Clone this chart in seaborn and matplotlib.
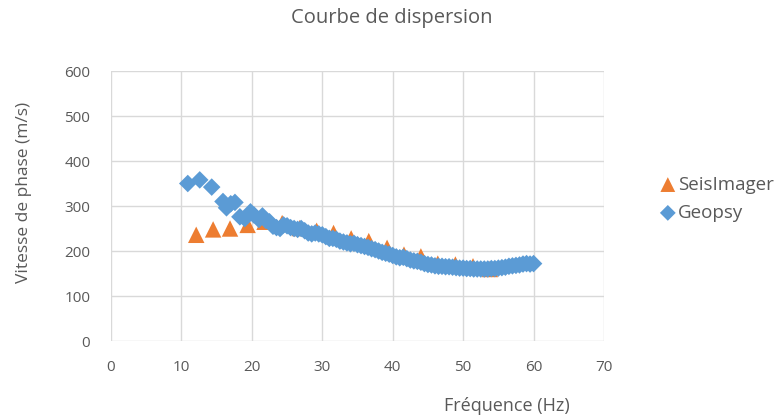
import matplotlib
matplotlib.use("Agg")
import matplotlib.pyplot as plt
import seaborn as sns
import pandas as pd

# SeisImager data
seis_f = [12.1, 14.5, 16.9, 19.4, 21.8, 24.3, 26.8, 29.2, 31.6, 34.1, 36.6,
          39.2, 41.6, 44.0, 46.4, 48.9, 51.4, 53.8]
seis_v = [236, 248, 250, 258, 265, 262, 251, 245, 240, 228, 222,
          207, 192, 188, 172, 170, 166, 160]

# Geopsy data
geo_f = [10.9, 12.6, 14.3, 15.9, 16.4, 17.0, 17.6, 18.3, 19.0, 19.8, 20.3,
         21.0, 21.5, 22.0, 22.5, 23.0, 23.5,
         24.0, 24.5, 25.0, 25.5, 26.0, 26.5, 27.0, 27.5, 28.0, 28.5, 29.0,
         29.5, 30.0, 30.5, 31.0, 31.5, 32.0, 32.5, 33.0, 33.5, 34.0, 34.5,
         35.0, 35.5, 36.0, 36.5, 37.0, 37.5, 38.0, 38.5, 39.0, 39.5, 40.0,
         40.5, 41.0, 41.5, 42.0, 42.5, 43.0, 43.5, 44.0, 44.5, 45.0, 45.5,
         46.0, 46.5, 47.0, 47.5, 48.0, 48.5, 49.0, 49.5, 50.0, 50.5, 51.0,
         51.5, 52.0, 52.5, 53.0, 53.5, 54.0, 54.5, 55.0, 55.5, 56.0, 56.5,
         57.0, 57.5, 58.0, 58.5, 59.0, 59.5, 60.0]
geo_v = [350, 358, 342, 310, 296, 305, 308, 276, 272, 287, 280,
         270, 278, 268, 265, 255, 252,
         250, 258, 256, 252, 250, 248, 250, 245, 240, 238, 240,
         238, 236, 232, 228, 228, 226, 222, 220, 218, 216, 217,
         214, 212, 210, 208, 205, 203, 200, 197, 195, 193, 190,
         187, 185, 186, 183, 180, 178, 177, 175, 172, 170, 169,
         167, 166, 166, 165, 165, 164, 163, 162, 162, 161, 161,
         160, 160, 160, 160, 160, 161, 161, 162, 163, 164, 166,
         167, 168, 169, 171, 172, 171, 172]

x_ticks = [0, 10, 20, 30, 40, 50, 60, 70]
y_ticks = [0, 100, 200, 300, 400, 500, 600]

sns.set_theme(style="white")
plt.rcParams['font.family'] = ['Open Sans', 'DejaVu Sans']

fig = plt.figure(figsize=(7.84, 4.19), dpi=100)
ax = fig.add_axes([111 / 784, 1 - 341 / 419, (604 - 111) / 784, 270 / 419])

seis_df = pd.DataFrame({"f": seis_f, "v": seis_v})
geo_df = pd.DataFrame({"f": geo_f, "v": geo_v})

sns.scatterplot(data=seis_df, x="f", y="v", marker="^", s=140, color="#ED7D31",
                edgecolor="none", linewidth=0, ax=ax, label="SeisImager", zorder=3)
sns.scatterplot(data=geo_df, x="f", y="v", marker="D", s=80, color="#5B9BD5",
                edgecolor="none", linewidth=0, ax=ax, label="Geopsy", zorder=4)

ax.set_xlim(0, 70)
ax.set_ylim(0, 600)
ax.set_xticks(x_ticks)
ax.set_yticks(y_ticks)
ax.grid(True, color="#d9d9d9", linewidth=1)
ax.set_axisbelow(True)
for s in ax.spines.values():
    s.set_visible(False)
ax.tick_params(axis="x", length=0, colors="#595959", labelsize=11, pad=14)
ax.tick_params(axis="y", length=0, colors="#595959", labelsize=11, pad=15)

ax.set_xlabel("")
ax.set_ylabel("")
fig.text(24 / 784, 1 - 192 / 419, "Vitesse de phase (m/s)", ha="center", va="center",
         rotation=90, color="#595959", fontsize=12.5)
fig.text(507 / 784, 1 - 406 / 419, "Fréquence (Hz)", ha="center", va="center",
         color="#595959", fontsize=13)
fig.text(392 / 784, 1 - 18 / 419, "Courbe de dispersion", ha="center", va="center",
         color="#595959", fontsize=14.5)

leg = ax.legend(loc="upper left", bbox_to_anchor=(650 / 784, 1 - 168 / 419),
                bbox_transform=fig.transFigure, frameon=False, fontsize=13.5,
                handletextpad=0.0, labelspacing=0.55, borderaxespad=0,
                handlelength=1.1, markerscale=0.9)
for t in leg.get_texts():
    t.set_color("#595959")

fig.savefig("out.png", dpi=100)
